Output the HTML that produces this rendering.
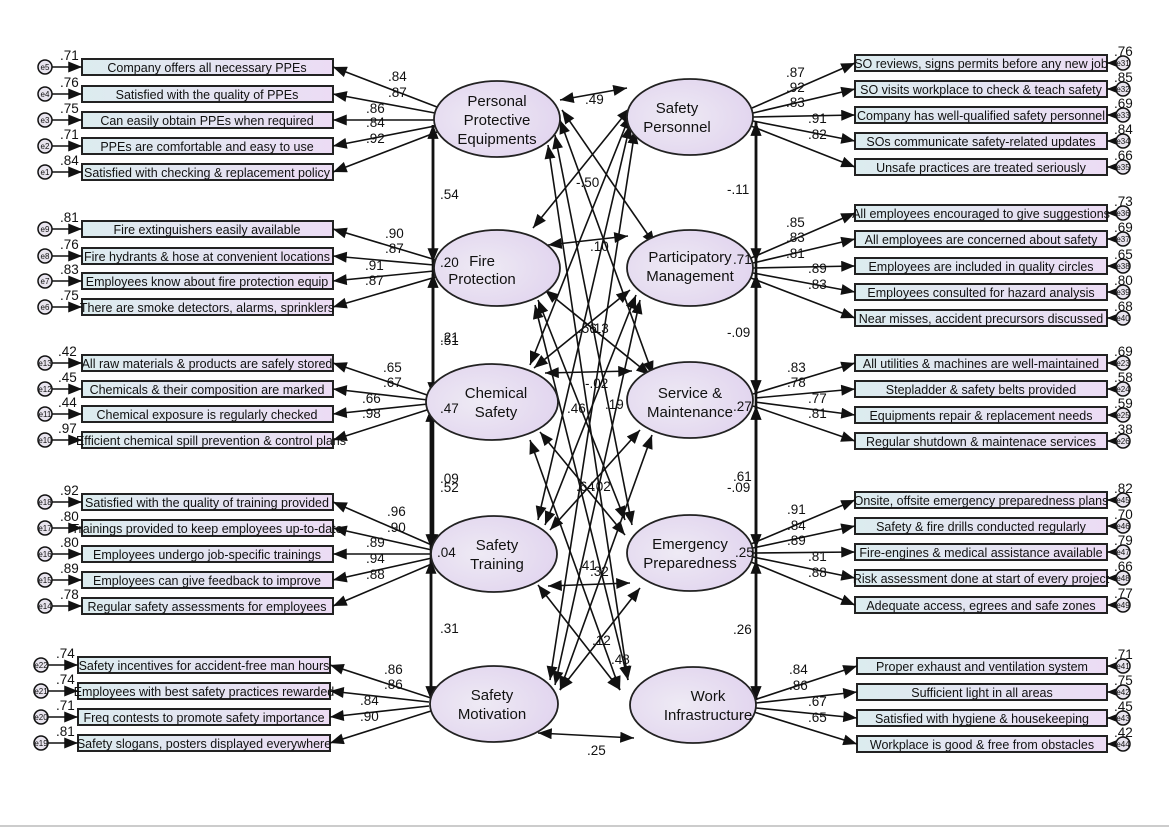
<!DOCTYPE html>
<html><head><meta charset="utf-8"><style>
body{margin:0;background:#fff;}
svg{display:block;font-family:"Liberation Sans",Arial,sans-serif;}
.b{stroke:#222;stroke-width:2;fill:url(#bg);}
.bt{font-size:12.5px;text-anchor:middle;fill:#111;}
.l{font-size:13.5px;fill:#111;}
.ln{stroke:#111;stroke-width:1.6;fill:none;}
.e{fill:url(#eg);stroke:#222;stroke-width:1.8;}
.et{font-size:15px;text-anchor:middle;fill:#111;}
.c{fill:#e8e4ee;stroke:#111;stroke-width:1.5;}
.ct{font-size:8px;text-anchor:middle;fill:#111;}
</style></head><body>
<svg width="1169" height="827" viewBox="0 0 1169 827">
<defs>
<linearGradient id="bg" x1="0" x2="1"><stop offset="0" stop-color="#dcecef"/><stop offset="1" stop-color="#ecdcf4"/></linearGradient>
<radialGradient id="eg" cx="0.4" cy="0.5" r="0.7"><stop offset="0" stop-color="#eeeaf4"/><stop offset="1" stop-color="#e0d2ee"/></radialGradient>
<marker id="a" viewBox="0 0 10 8" refX="10" refY="4" markerWidth="14" markerHeight="11" markerUnits="userSpaceOnUse" orient="auto-start-reverse"><path d="M0,0L10,4L0,8z" fill="#111"/></marker>
</defs>

<g>
<rect class="b" x="82" y="59" width="251" height="16"/><text class="bt" x="207" y="72">Company offers all necessary PPEs</text>
<rect class="b" x="82" y="86" width="251" height="16"/><text class="bt" x="207" y="99">Satisfied with the quality of PPEs</text>
<rect class="b" x="82" y="112" width="251" height="16"/><text class="bt" x="207" y="125">Can easily obtain PPEs when required</text>
<rect class="b" x="82" y="138" width="251" height="16"/><text class="bt" x="207" y="151">PPEs are comfortable and easy to use</text>
<rect class="b" x="82" y="164" width="251" height="16"/><text class="bt" x="207" y="177">Satisfied with checking &amp; replacement policy</text>

<rect class="b" x="82" y="221" width="251" height="16"/><text class="bt" x="207" y="234">Fire extinguishers easily available</text>
<rect class="b" x="82" y="248" width="251" height="16"/><text class="bt" x="207" y="261">Fire hydrants &amp; hose at convenient locations</text>
<rect class="b" x="82" y="273" width="251" height="16"/><text class="bt" x="207" y="286">Employees know about fire protection equip</text>
<rect class="b" x="82" y="299" width="251" height="16"/><text class="bt" x="207" y="312">There are smoke detectors, alarms, sprinklers</text>

<rect class="b" x="82" y="355" width="251" height="16"/><text class="bt" x="207" y="368">All raw materials &amp; products are safely stored</text>
<rect class="b" x="82" y="381" width="251" height="16"/><text class="bt" x="207" y="394">Chemicals &amp; their composition are marked</text>
<rect class="b" x="82" y="406" width="251" height="16"/><text class="bt" x="207" y="419">Chemical exposure is regularly checked</text>
<rect class="b" x="82" y="432" width="251" height="16"/><text class="bt" x="211" y="445">Efficient chemical spill prevention &amp; control plans</text>

<rect class="b" x="82" y="494" width="251" height="16"/><text class="bt" x="207" y="507">Satisfied with the quality of training provided</text>
<rect class="b" x="82" y="520" width="251" height="16"/><text class="bt" x="207" y="533">Trainings provided to keep employees up-to-date</text>
<rect class="b" x="82" y="546" width="251" height="16"/><text class="bt" x="207" y="559">Employees undergo job-specific trainings</text>
<rect class="b" x="82" y="572" width="251" height="16"/><text class="bt" x="207" y="585">Employees can give feedback to improve</text>
<rect class="b" x="82" y="598" width="251" height="16"/><text class="bt" x="207" y="611">Regular safety assessments for employees</text>

<rect class="b" x="78" y="657" width="252" height="16"/><text class="bt" x="204" y="670">Safety incentives for accident-free man hours</text>
<rect class="b" x="78" y="683" width="252" height="16"/><text class="bt" x="204" y="696">Employees with best safety practices rewarded</text>
<rect class="b" x="78" y="709" width="252" height="16"/><text class="bt" x="204" y="722">Freq contests to promote safety importance</text>
<rect class="b" x="78" y="735" width="252" height="16"/><text class="bt" x="204" y="748">Safety slogans, posters displayed everywhere</text>
</g>

<g>
<rect class="b" x="855" y="55" width="252" height="16"/><text class="bt" x="981" y="68">SO reviews, signs permits before any new job</text>
<rect class="b" x="855" y="81" width="252" height="16"/><text class="bt" x="981" y="94">SO visits workplace to check &amp; teach safety</text>
<rect class="b" x="855" y="107" width="252" height="16"/><text class="bt" x="981" y="120">Company has well-qualified safety personnel</text>
<rect class="b" x="855" y="133" width="252" height="16"/><text class="bt" x="981" y="146">SOs communicate safety-related updates</text>
<rect class="b" x="855" y="159" width="252" height="16"/><text class="bt" x="981" y="172">Unsafe practices are treated seriously</text>

<rect class="b" x="855" y="205" width="252" height="16"/><text class="bt" x="981" y="218">All employees encouraged to give suggestions</text>
<rect class="b" x="855" y="231" width="252" height="16"/><text class="bt" x="981" y="244">All employees are concerned about safety</text>
<rect class="b" x="855" y="258" width="252" height="16"/><text class="bt" x="981" y="271">Employees are included in quality circles</text>
<rect class="b" x="855" y="284" width="252" height="16"/><text class="bt" x="981" y="297">Employees consulted for hazard analysis</text>
<rect class="b" x="855" y="310" width="252" height="16"/><text class="bt" x="981" y="323">Near misses, accident precursors discussed</text>

<rect class="b" x="855" y="355" width="252" height="16"/><text class="bt" x="981" y="368">All utilities &amp; machines are well-maintained</text>
<rect class="b" x="855" y="381" width="252" height="16"/><text class="bt" x="981" y="394">Stepladder &amp; safety belts provided</text>
<rect class="b" x="855" y="407" width="252" height="16"/><text class="bt" x="981" y="420">Equipments repair &amp; replacement needs</text>
<rect class="b" x="855" y="433" width="252" height="16"/><text class="bt" x="981" y="446">Regular shutdown &amp; maintenace services</text>

<rect class="b" x="855" y="492" width="252" height="16"/><text class="bt" x="981" y="505">Onsite, offsite emergency preparedness plans</text>
<rect class="b" x="855" y="518" width="252" height="16"/><text class="bt" x="981" y="531">Safety &amp; fire drills conducted regularly</text>
<rect class="b" x="855" y="544" width="252" height="16"/><text class="bt" x="981" y="557">Fire-engines &amp; medical assistance available</text>
<rect class="b" x="855" y="570" width="252" height="16"/><text class="bt" x="981" y="583">Risk assessment done at start of every project</text>
<rect class="b" x="855" y="597" width="252" height="16"/><text class="bt" x="981" y="610">Adequate access, egrees and safe zones</text>

<rect class="b" x="857" y="658" width="250" height="16"/><text class="bt" x="982" y="671">Proper exhaust and ventilation system</text>
<rect class="b" x="857" y="684" width="250" height="16"/><text class="bt" x="982" y="697">Sufficient light in all areas</text>
<rect class="b" x="857" y="710" width="250" height="16"/><text class="bt" x="982" y="723">Satisfied with hygiene &amp; housekeeping</text>
<rect class="b" x="857" y="736" width="250" height="16"/><text class="bt" x="982" y="749">Workplace is good &amp; free from obstacles</text>
</g>

<g class="ln" marker-end="url(#a)">
<path d="M52,67H82"/><path d="M52,94H82"/><path d="M52,120H82"/><path d="M52,146H82"/><path d="M52,172H82"/>
<path d="M52,229H82"/><path d="M52,256H82"/><path d="M52,281H82"/><path d="M52,307H82"/>
<path d="M52,363H82"/><path d="M52,389H82"/><path d="M52,414H82"/><path d="M52,440H82"/>
<path d="M52,502H82"/><path d="M52,528H82"/><path d="M52,554H82"/><path d="M52,580H82"/><path d="M52,606H82"/>
<path d="M48,665H78"/><path d="M48,691H78"/><path d="M48,717H78"/><path d="M48,743H78"/>
<path d="M1116,63H1107"/><path d="M1116,89H1107"/><path d="M1116,115H1107"/><path d="M1116,141H1107"/><path d="M1116,167H1107"/>
<path d="M1116,213H1107"/><path d="M1116,239H1107"/><path d="M1116,266H1107"/><path d="M1116,292H1107"/><path d="M1116,318H1107"/>
<path d="M1116,363H1107"/><path d="M1116,389H1107"/><path d="M1116,415H1107"/><path d="M1116,441H1107"/>
<path d="M1116,500H1107"/><path d="M1116,526H1107"/><path d="M1116,552H1107"/><path d="M1116,578H1107"/><path d="M1116,605H1107"/>
<path d="M1116,666H1107"/><path d="M1116,692H1107"/><path d="M1116,718H1107"/><path d="M1116,744H1107"/>
</g>
<g>
<circle class="c" cx="45" cy="67" r="7"/><text class="ct" x="45" y="70">e5</text>
<circle class="c" cx="45" cy="94" r="7"/><text class="ct" x="45" y="97">e4</text>
<circle class="c" cx="45" cy="120" r="7"/><text class="ct" x="45" y="123">e3</text>
<circle class="c" cx="45" cy="146" r="7"/><text class="ct" x="45" y="149">e2</text>
<circle class="c" cx="45" cy="172" r="7"/><text class="ct" x="45" y="175">e1</text>
<circle class="c" cx="45" cy="229" r="7"/><text class="ct" x="45" y="232">e9</text>
<circle class="c" cx="45" cy="256" r="7"/><text class="ct" x="45" y="259">e8</text>
<circle class="c" cx="45" cy="281" r="7"/><text class="ct" x="45" y="284">e7</text>
<circle class="c" cx="45" cy="307" r="7"/><text class="ct" x="45" y="310">e6</text>
<circle class="c" cx="45" cy="363" r="7"/><text class="ct" x="45" y="366">e13</text>
<circle class="c" cx="45" cy="389" r="7"/><text class="ct" x="45" y="392">e12</text>
<circle class="c" cx="45" cy="414" r="7"/><text class="ct" x="45" y="417">e11</text>
<circle class="c" cx="45" cy="440" r="7"/><text class="ct" x="45" y="443">e10</text>
<circle class="c" cx="45" cy="502" r="7"/><text class="ct" x="45" y="505">e18</text>
<circle class="c" cx="45" cy="528" r="7"/><text class="ct" x="45" y="531">e17</text>
<circle class="c" cx="45" cy="554" r="7"/><text class="ct" x="45" y="557">e16</text>
<circle class="c" cx="45" cy="580" r="7"/><text class="ct" x="45" y="583">e15</text>
<circle class="c" cx="45" cy="606" r="7"/><text class="ct" x="45" y="609">e14</text>
<circle class="c" cx="41" cy="665" r="7"/><text class="ct" x="41" y="668">e22</text>
<circle class="c" cx="41" cy="691" r="7"/><text class="ct" x="41" y="694">e21</text>
<circle class="c" cx="41" cy="717" r="7"/><text class="ct" x="41" y="720">e20</text>
<circle class="c" cx="41" cy="743" r="7"/><text class="ct" x="41" y="746">e19</text>

<circle class="c" cx="1123" cy="63" r="7"/><text class="ct" x="1123" y="66">e31</text>
<circle class="c" cx="1123" cy="89" r="7"/><text class="ct" x="1123" y="92">e32</text>
<circle class="c" cx="1123" cy="115" r="7"/><text class="ct" x="1123" y="118">e33</text>
<circle class="c" cx="1123" cy="141" r="7"/><text class="ct" x="1123" y="144">e34</text>
<circle class="c" cx="1123" cy="167" r="7"/><text class="ct" x="1123" y="170">e35</text>
<circle class="c" cx="1123" cy="213" r="7"/><text class="ct" x="1123" y="216">e36</text>
<circle class="c" cx="1123" cy="239" r="7"/><text class="ct" x="1123" y="242">e37</text>
<circle class="c" cx="1123" cy="266" r="7"/><text class="ct" x="1123" y="269">e38</text>
<circle class="c" cx="1123" cy="292" r="7"/><text class="ct" x="1123" y="295">e39</text>
<circle class="c" cx="1123" cy="318" r="7"/><text class="ct" x="1123" y="321">e40</text>
<circle class="c" cx="1123" cy="363" r="7"/><text class="ct" x="1123" y="366">e23</text>
<circle class="c" cx="1123" cy="389" r="7"/><text class="ct" x="1123" y="392">e24</text>
<circle class="c" cx="1123" cy="415" r="7"/><text class="ct" x="1123" y="418">e25</text>
<circle class="c" cx="1123" cy="441" r="7"/><text class="ct" x="1123" y="444">e26</text>
<circle class="c" cx="1123" cy="500" r="7"/><text class="ct" x="1123" y="503">e45</text>
<circle class="c" cx="1123" cy="526" r="7"/><text class="ct" x="1123" y="529">e46</text>
<circle class="c" cx="1123" cy="552" r="7"/><text class="ct" x="1123" y="555">e47</text>
<circle class="c" cx="1123" cy="578" r="7"/><text class="ct" x="1123" y="581">e48</text>
<circle class="c" cx="1123" cy="605" r="7"/><text class="ct" x="1123" y="608">e49</text>
<circle class="c" cx="1123" cy="666" r="7"/><text class="ct" x="1123" y="669">e41</text>
<circle class="c" cx="1123" cy="692" r="7"/><text class="ct" x="1123" y="695">e42</text>
<circle class="c" cx="1123" cy="718" r="7"/><text class="ct" x="1123" y="721">e43</text>
<circle class="c" cx="1123" cy="744" r="7"/><text class="ct" x="1123" y="747">e44</text>
</g>

<g class="ln" marker-end="url(#a)">
<path d="M437,107L333,67"/><path d="M435,113L333,94"/><path d="M434,120L333,120"/><path d="M435,126L333,146"/><path d="M437,132L333,172"/>
<path d="M436,260L333,229"/><path d="M434,265L333,256"/><path d="M434,271L333,281"/><path d="M436,277L333,307"/>
<path d="M430,396L333,363"/><path d="M428,400L333,389"/><path d="M428,404L333,414"/><path d="M430,409L333,440"/>
<path d="M434,546L333,502"/><path d="M432,550L333,528"/><path d="M431,554L333,554"/><path d="M432,558L333,580"/><path d="M434,563L333,606"/>
<path d="M431,698L330,665"/><path d="M429,702L330,691"/><path d="M429,706L330,717"/><path d="M431,711L330,743"/>

<path d="M752,108L855,63"/><path d="M753,113L855,89"/><path d="M753,117L855,115"/><path d="M753,121L855,141"/><path d="M751,126L855,167"/>
<path d="M751,258L855,213"/><path d="M753,263L855,239"/><path d="M753,268L855,266"/><path d="M753,273L855,292"/><path d="M751,278L855,318"/>
<path d="M753,394L855,363"/><path d="M755,398L855,389"/><path d="M755,402L855,415"/><path d="M753,406L855,441"/>
<path d="M751,544L855,500"/><path d="M753,548L855,526"/><path d="M753,553L855,552"/><path d="M753,557L855,578"/><path d="M751,562L855,605"/>
<path d="M754,700L857,666"/><path d="M756,703L857,692"/><path d="M756,708L857,718"/><path d="M754,712L857,744"/>
</g>

<g class="ln" style="stroke-width:2.6" marker-start="url(#a)" marker-end="url(#a)">
<path d="M433,125V262"/><path d="M433,274V396"/><path d="M431,408V548"/><path d="M431,560V700"/>
<path d="M433,125V396"/><path d="M433,274V548"/><path d="M431,408V700"/>
<path d="M756,122V262"/><path d="M756,274V394"/><path d="M756,406V548"/><path d="M756,560V700"/>
<path d="M756,122V394"/><path d="M756,274V548"/><path d="M756,406V700"/>
</g>

<g class="ln" marker-start="url(#a)" marker-end="url(#a)">
<path d="M560,100L627,88"/>
<path d="M548,245L628,236"/>
<path d="M545,373L632,371"/>
<path d="M548,586L630,583"/>
<path d="M538,733L634,738"/>
<path d="M562,110L655,245"/><path d="M560,120L653,375"/><path d="M555,135L632,525"/><path d="M548,145L628,680"/>
<path d="M533,228L630,108"/><path d="M545,290L650,375"/><path d="M538,300L625,520"/><path d="M535,305L628,680"/>
<path d="M530,365L630,115"/><path d="M534,368L630,290"/><path d="M540,432L625,535"/><path d="M530,440L620,690"/>
<path d="M538,520L630,125"/><path d="M545,525L636,295"/><path d="M550,530L640,430"/><path d="M538,585L620,690"/>
<path d="M550,680L635,130"/><path d="M555,685L640,300"/><path d="M560,690L652,435"/><path d="M560,690L640,588"/>
</g>

<g>
<ellipse class="e" cx="497" cy="119" rx="63" ry="38"/><text class="et" x="497" y="106">Personal</text><text class="et" x="497" y="125">Protective</text><text class="et" x="497" y="144">Equipments</text>
<ellipse class="e" cx="497" cy="268" rx="63" ry="38"/><text class="et" x="482" y="266">Fire</text><text class="et" x="482" y="284">Protection</text>
<ellipse class="e" cx="492" cy="402" rx="66" ry="38"/><text class="et" x="496" y="398">Chemical</text><text class="et" x="496" y="417">Safety</text>
<ellipse class="e" cx="494" cy="554" rx="63" ry="38"/><text class="et" x="497" y="550">Safety</text><text class="et" x="497" y="569">Training</text>
<ellipse class="e" cx="494" cy="704" rx="64" ry="38"/><text class="et" x="492" y="700">Safety</text><text class="et" x="492" y="719">Motivation</text>
<ellipse class="e" cx="690" cy="117" rx="63" ry="38"/><text class="et" x="677" y="113">Safety</text><text class="et" x="677" y="132">Personnel</text>
<ellipse class="e" cx="690" cy="268" rx="63" ry="38"/><text class="et" x="690" y="262">Participatory</text><text class="et" x="690" y="281">Management</text>
<ellipse class="e" cx="690" cy="400" rx="63" ry="38"/><text class="et" x="690" y="398">Service &amp;</text><text class="et" x="690" y="417">Maintenance</text>
<ellipse class="e" cx="690" cy="553" rx="63" ry="38"/><text class="et" x="690" y="549">Emergency</text><text class="et" x="690" y="568">Preparedness</text>
<ellipse class="e" cx="693" cy="705" rx="63" ry="38"/><text class="et" x="708" y="701">Work</text><text class="et" x="708" y="720">Infrastructure</text>
</g>

<g class="l">
<text x="60" y="60">.71</text><text x="60" y="87">.76</text><text x="60" y="113">.75</text><text x="60" y="139">.71</text><text x="60" y="165">.84</text>
<text x="60" y="222">.81</text><text x="60" y="249">.76</text><text x="60" y="274">.83</text><text x="60" y="300">.75</text>
<text x="58" y="356">.42</text><text x="58" y="382">.45</text><text x="58" y="407">.44</text><text x="58" y="433">.97</text>
<text x="60" y="495">.92</text><text x="60" y="521">.80</text><text x="60" y="547">.80</text><text x="60" y="573">.89</text><text x="60" y="599">.78</text>
<text x="56" y="658">.74</text><text x="56" y="684">.74</text><text x="56" y="710">.71</text><text x="56" y="736">.81</text>

<text x="388" y="81">.84</text><text x="388" y="97">.87</text><text x="366" y="113">.86</text><text x="366" y="127">.84</text><text x="366" y="143">.92</text>
<text x="385" y="238">.90</text><text x="385" y="253">.87</text><text x="365" y="270">.91</text><text x="365" y="285">.87</text>
<text x="383" y="372">.65</text><text x="383" y="387">.67</text><text x="362" y="403">.66</text><text x="362" y="418">.98</text>
<text x="387" y="516">.96</text><text x="387" y="532">.90</text><text x="366" y="547">.89</text><text x="366" y="563">.94</text><text x="366" y="579">.88</text>
<text x="384" y="674">.86</text><text x="384" y="689">.86</text><text x="360" y="705">.84</text><text x="360" y="721">.90</text>

<text x="786" y="77">.87</text><text x="786" y="92">.92</text><text x="786" y="107">.83</text><text x="808" y="123">.91</text><text x="808" y="139">.82</text>
<text x="786" y="227">.85</text><text x="786" y="242">.83</text><text x="786" y="258">.81</text><text x="808" y="273">.89</text><text x="808" y="289">.83</text>
<text x="787" y="372">.83</text><text x="787" y="387">.78</text><text x="808" y="403">.77</text><text x="808" y="418">.81</text>
<text x="787" y="514">.91</text><text x="787" y="530">.84</text><text x="787" y="545">.89</text><text x="808" y="561">.81</text><text x="808" y="577">.88</text>
<text x="789" y="674">.84</text><text x="789" y="690">.86</text><text x="808" y="706">.67</text><text x="808" y="722">.65</text>

<text x="1114" y="56">.76</text><text x="1114" y="82">.85</text><text x="1114" y="108">.69</text><text x="1114" y="134">.84</text><text x="1114" y="160">.66</text>
<text x="1114" y="206">.73</text><text x="1114" y="232">.69</text><text x="1114" y="259">.65</text><text x="1114" y="285">.80</text><text x="1114" y="311">.68</text>
<text x="1114" y="356">.69</text><text x="1114" y="382">.58</text><text x="1114" y="408">.59</text><text x="1114" y="434">.38</text>
<text x="1114" y="493">.82</text><text x="1114" y="519">.70</text><text x="1114" y="545">.79</text><text x="1114" y="571">.66</text><text x="1114" y="598">.77</text>
<text x="1114" y="659">.71</text><text x="1114" y="685">.75</text><text x="1114" y="711">.45</text><text x="1114" y="737">.42</text>

<text x="585" y="104">.49</text>
<text x="440" y="199">.54</text><text x="440" y="267">.20</text><text x="440" y="342">.21</text><text x="440" y="345">.51</text>
<text x="440" y="413">.47</text><text x="440" y="483">.09</text><text x="440" y="492">.52</text><text x="437" y="557">.04</text><text x="440" y="633">.31</text>
<text x="727" y="194">-.11</text><text x="733" y="264">.71</text><text x="727" y="337">-.09</text><text x="733" y="411">.27</text>
<text x="733" y="481">.61</text><text x="727" y="492">-.09</text><text x="735" y="557">.25</text><text x="733" y="634">.26</text>
<text x="576" y="187">-.50</text><text x="590" y="251">.10</text><text x="578" y="333">.56</text><text x="590" y="333">.13</text>
<text x="585" y="388">-.02</text><text x="567" y="413">.46</text><text x="605" y="409">.19</text><text x="576" y="491">.64</text><text x="592" y="491">.02</text>
<text x="578" y="570">.41</text><text x="590" y="576">.32</text><text x="592" y="645">.12</text><text x="611" y="664">.48</text><text x="587" y="755">.25</text>
</g>
<line x1="0" y1="826" x2="1169" y2="826" stroke="#999" stroke-width="1"/>
</svg>
</body></html>
